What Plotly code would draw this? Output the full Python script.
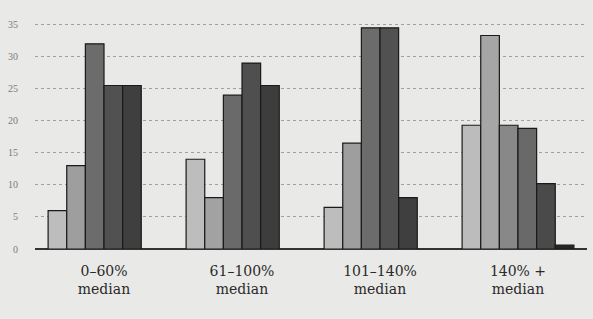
import plotly.graph_objects as go

categories = ["0–60%<br>median", "61–100%<br>median", "101–140%<br>median", "140% +<br>median"]
series1 = [6, 14, 6.5, 19.3]
series2 = [13, 8, 16.5, 33.3]
series3 = [32, 24, 34.5, 19.3]
series4 = [25.5, 29, 34.5, 18.8]
series5 = [25.5, 25.5, 8, 10.2]
series6 = [None, None, None, 0.6]
y_ticks = [0, 5, 10, 15, 20, 25, 30, 35]

all_series = [series1, series2, series3, series4, series5, series6]
# shades per series; last group is printed a little lighter
colors = [
    ["#bdbdbd", "#bdbdbd", "#bdbdbd", "#bcbcbc"],
    ["#9e9e9e", "#a2a2a2", "#9e9e9e", "#a6a6a6"],
    ["#6c6c6c", "#6a6a6a", "#6c6c6c", "#888888"],
    ["#515151", "#4f4f4f", "#515151", "#696969"],
    ["#3f3f3f", "#3d3d3d", "#3f3f3f", "#4a4a4a"],
    ["#262626", "#262626", "#262626", "#262626"],
]

fig = go.Figure()
for vals, col in zip(all_series, colors):
    fig.add_trace(go.Bar(
        x=categories, y=vals,
        marker=dict(color=col, line=dict(color="#1a1a1a", width=1.2)),
        showlegend=False,
    ))

fig.update_layout(
    width=593, height=319,
    margin=dict(l=35, r=6, t=15, b=70),
    barmode="group", bargap=0.19, bargroupgap=0,
    paper_bgcolor="#e9e9e7", plot_bgcolor="#e9e9e7",
    font=dict(family="Liberation Serif, DejaVu Serif, serif", color="#2a2a2a"),
)
fig.update_xaxes(
    showgrid=False, showline=False,
    ticks="outside", ticklen=9, tickcolor="rgba(0,0,0,0)",
    tickfont=dict(size=14, color="#2a2a2a", family="DejaVu Serif, serif"),
)
fig.update_yaxes(
    range=[0, 36.5], tickvals=y_ticks,
    showgrid=True, gridcolor="#a0a0a0", griddash="dot", gridwidth=1,
    zeroline=True, zerolinecolor="#333333", zerolinewidth=1.5,
    tickfont=dict(size=10, color="#7a7a7a"),
    ticks="", showline=False, ticklabelstandoff=16,
)
fig.write_html("out.html", config={"displayModeBar": False},
               post_script="document.body.style.margin='0';")
